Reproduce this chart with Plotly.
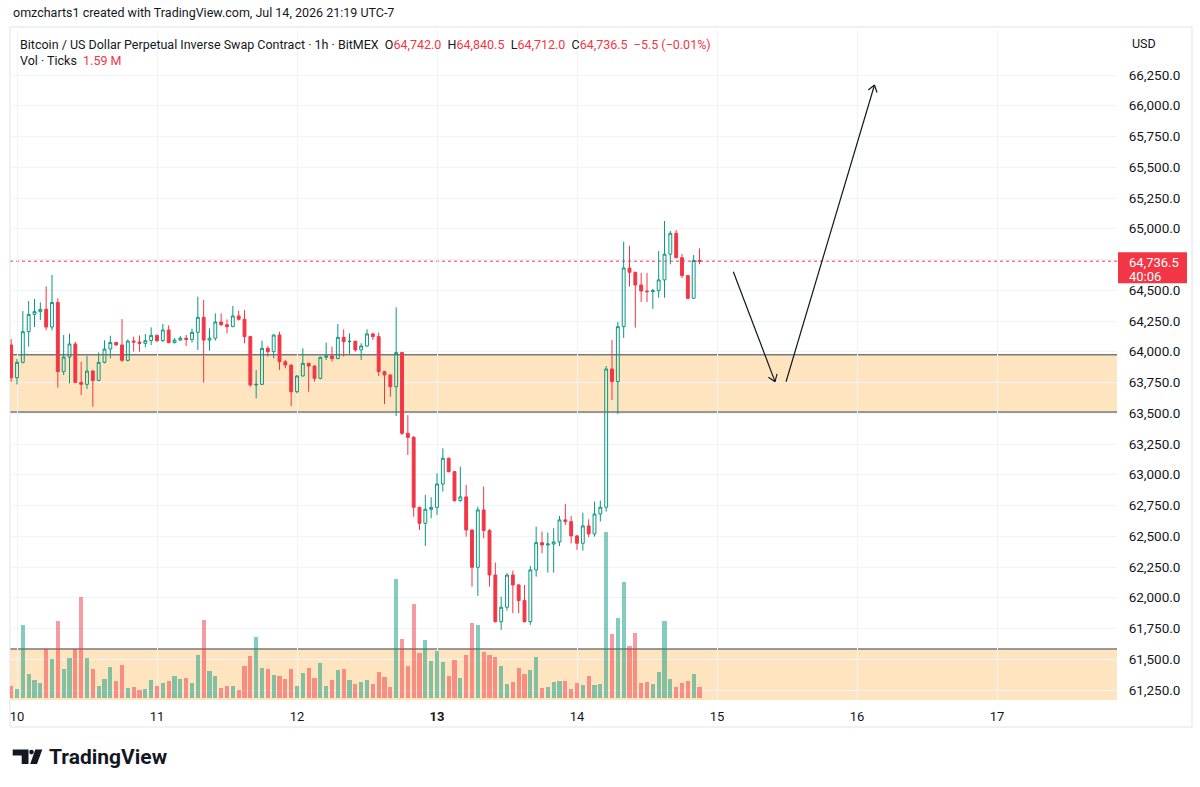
import math
import pandas as pd
import plotly.graph_objects as go

# ---------------- data ----------------
start_time = "2026-07-09 23:00"
opens = [64055, 63789, 63914, 64163, 64304, 64326, 64345, 64201, 64401, 63838,
         63957, 64063, 63751, 63735, 63843, 63767, 63914, 64022, 64076, 64055,
         63930, 64087, 64079, 64068, 64090, 64133, 64090, 64177, 64074, 64095,
         64110, 64100, 64158, 64280, 64095, 64110, 64242, 64220, 64204, 64291,
         64264, 64123, 63730, 63735, 64028, 64001, 64136, 63919, 63892, 63675,
         63803, 63906, 63884, 63784, 63955, 63966, 63944, 64117, 64082, 64085,
         64015, 64047, 64145, 64123, 63838, 63811, 63716, 63993, 63337, 63304,
         62735, 62605, 62719, 62735, 62925, 63134, 63025, 62790, 62820, 62551,
         62248, 62714, 62546, 62185, 61806, 61923, 62185, 62104, 61977, 61806,
         62226, 62448, 62429, 62437, 62454, 62633, 62619, 62503, 62443, 62584,
         62519, 62681, 62736, 63860, 63757, 64204, 64681, 64646, 64543, 64494,
         64489, 64497, 64584, 64793, 64963, 64765, 64619, 64435, 64742]
highs = [64103, 63941, 64331, 64412, 64429, 64401, 64532, 64624, 64434, 64136,
         64147, 64080, 63919, 63968, 63850, 63995, 64093, 64130, 64080, 64266,
         64100, 64123, 64133, 64144, 64198, 64140, 64226, 64215, 64110, 64128,
         64136, 64188, 64448, 64421, 64190, 64312, 64312, 64263, 64372, 64334,
         64339, 64130, 63852, 64090, 64045, 64140, 64163, 63933, 63895, 63810,
         64028, 63910, 63890, 63960, 64074, 64041, 64226, 64182, 64150, 64090,
         64069, 64183, 64155, 64155, 63845, 63815, 64361, 64000, 63486, 63315,
         62740, 62836, 62817, 63012, 63215, 63140, 63030, 63066, 62917, 62555,
         62741, 62904, 62557, 62286, 62009, 62199, 62221, 62112, 62104, 62258,
         62578, 62538, 62530, 62565, 62665, 62763, 62665, 62510, 62692, 62638,
         62782, 62790, 63884, 64096, 64242, 64895, 64862, 64650, 64641, 64641,
         64510, 64819, 65063, 64982, 64990, 64795, 64625, 64787, 64840.5]
lows = [63756, 63735, 63905, 64041, 64201, 64258, 64174, 64174, 63708, 63811,
        63743, 63745, 63648, 63697, 63553, 63760, 63905, 63946, 64050, 63919,
        63920, 64001, 64001, 64036, 64055, 64080, 64080, 64068, 64068, 64090,
        64047, 64074, 64014, 63749, 64009, 64090, 64210, 64150, 64200, 64253,
        64068, 63716, 63621, 63730, 63960, 63946, 63852, 63865, 63559, 63662,
        63800, 63675, 63757, 63776, 63933, 63920, 63940, 63960, 63974, 64000,
        63933, 64040, 64096, 63803, 63575, 63635, 63478, 63323, 63161, 62659,
        62551, 62421, 62646, 62673, 62863, 63020, 62781, 62780, 62497, 62090,
        62015, 62484, 62091, 61798, 61738, 61895, 61874, 61874, 61798, 61779,
        62172, 62362, 62204, 62204, 62421, 62592, 62443, 62389, 62383, 62492,
        62497, 62620, 62700, 63608, 63494, 64112, 64529, 64196, 64405, 64405,
        64348, 64440, 64440, 64711, 64760, 64600, 64425, 64430, 64712]
closes = [63789, 63914, 64163, 64304, 64326, 64345, 64201, 64401, 63838, 63957,
          64063, 63751, 63735, 63843, 63767, 63914, 64022, 64076, 64055, 63930,
          64087, 64079, 64068, 64090, 64133, 64090, 64177, 64074, 64095, 64110,
          64100, 64158, 64280, 64095, 64110, 64242, 64220, 64204, 64291, 64264,
          64123, 63730, 63735, 64028, 64001, 64136, 63919, 63892, 63675, 63803,
          63906, 63884, 63784, 63955, 63966, 63944, 64117, 64082, 64085, 64015,
          64047, 64145, 64123, 63838, 63811, 63716, 63993, 63337, 63304, 62735,
          62605, 62719, 62735, 62925, 63134, 63025, 62790, 62820, 62551, 62248,
          62714, 62546, 62185, 61806, 61923, 62185, 62104, 61977, 61806, 62226,
          62448, 62429, 62437, 62454, 62633, 62619, 62503, 62443, 62584, 62519,
          62681, 62736, 63860, 63757, 64204, 64681, 64646, 64543, 64494, 64489,
          64497, 64584, 64793, 64963, 64765, 64619, 64435, 64742, 64736.5]
volumes = [1.74, 1.39, 10.8, 3.63, 2.73, 2.24, 7.35, 5.81, 11.43, 4.32,
           5.96, 7.35, 15.05, 5.96, 4.37, 1.84, 2.83, 4.67, 2.58, 4.92,
           1.49, 1.64, 1.15, 1.39, 2.68, 1.79, 2.28, 2.58, 3.32, 2.79,
           2.98, 2.24, 6.36, 11.67, 4.07, 3.32, 1.45, 1.74, 1.84, 1.24,
           4.72, 6.21, 9.04, 4.52, 4.32, 3.47, 3.23, 2.79, 4.32, 1.74,
           3.77, 4.42, 2.98, 5.22, 1.84, 2.63, 4.22, 4.32, 2.73, 2.06,
           2.33, 2.63, 2.04, 3.92, 3.08, 1.64, 17.68, 8.84, 4.77, 13.96,
           6.66, 8.64, 5.51, 7.0, 5.36, 3.32, 5.62, 2.94, 6.45, 11.22,
           10.88, 6.81, 6.45, 6.15, 4.77, 2.09, 2.33, 4.42, 3.53, 4.17,
           6.06, 1.44, 1.69, 2.38, 2.58, 2.53, 1.34, 2.19, 1.94, 3.23,
           1.98, 2.09, 24.78, 9.54, 11.87, 17.33, 7.7, 9.64, 2.19, 2.33,
           2.04, 3.92, 11.52, 2.78, 1.59, 2.24, 2.53, 3.53, 1.59]

day_ticks = ["2026-07-10", "2026-07-11", "2026-07-12", "2026-07-13",
             "2026-07-14", "2026-07-15", "2026-07-16", "2026-07-17"]
day_labels = ["10", "11", "12", "<b>13</b>", "14", "15", "16", "17"]
price_ticks = [61250, 61500, 61750, 62000, 62250, 62500, 62750, 63000, 63250,
               63500, 63750, 64000, 64250, 64500, 64750, 65000, 65250, 65500,
               65750, 66000, 66250]
price_labels = ["61,250.0", "61,500.0", "61,750.0", "62,000.0", "62,250.0",
                "62,500.0", "62,750.0", "63,000.0", "63,250.0", "63,500.0",
                "63,750.0", "64,000.0", "64,250.0", "64,500.0", "", "65,000.0",
                "65,250.0", "65,500.0", "65,750.0", "66,000.0", "66,250.0"]

zone_upper = (63510, 63975)
zone_lower_top = 61583
last_price = 64736.5
arrow_down = (("2026-07-15 02:48", 64651), ("2026-07-15 09:57", 63757))
arrow_up = (("2026-07-15 11:50", 63756), ("2026-07-16 03:00", 66169))

# ---------------- geometry ----------------
W, H = 1200, 787
ML, MR, MT, MB = 10, 83, 30, 87
PW, PH = W - ML - MR, H - MT - MB
x_range = [pd.Timestamp("2026-07-09 22:48:00"), pd.Timestamp("2026-07-17 20:34:17")]
y_range = [61168.7, 66615.9]
vol_range = [-0.3, 99.5]

UP, DOWN = "#089981", "#F23645"
TXT = "#131722"
FONT = "Roboto, Arial, sans-serif"

times = pd.date_range(start_time, periods=len(opens), freq="h")
vol_colors = ["rgba(8,153,129,0.5)" if c >= o else "rgba(242,54,69,0.5)"
              for o, c in zip(opens, closes)]


def px_x(px):
    return (px - ML) / PW


def px_y(py):
    return 1 - (py - MT) / PH


def t_to_px(t):
    t = pd.Timestamp(t)
    return ML + (t - x_range[0]) / (x_range[1] - x_range[0]) * PW


def p_to_px(p):
    return MT + (y_range[1] - p) / (y_range[1] - y_range[0]) * PH


def px_to_t(px):
    return x_range[0] + (px - ML) / PW * (x_range[1] - x_range[0])


def px_to_p(py):
    return y_range[1] - (py - MT) / PH * (y_range[1] - y_range[0])


fig = go.Figure()
fig.add_trace(go.Bar(x=times, y=volumes, marker=dict(color=vol_colors, line_width=0),
                     width=0.74 * 3600000, yaxis="y", hoverinfo="skip"))
fig.add_trace(go.Candlestick(
    x=times, open=opens, high=highs, low=lows, close=closes, yaxis="y2",
    increasing=dict(line=dict(color=UP, width=1), fillcolor="rgba(0,0,0,0)"),
    decreasing=dict(line=dict(color=DOWN, width=1), fillcolor=DOWN),
    whiskerwidth=0, hoverinfo="skip"))

shapes = []
ZONE_FILL = "rgba(255,152,0,0.25)"
ZONE_LINE = "#787878"
shapes.append(dict(type="rect", xref="paper", yref="y2", x0=0, x1=1,
                   y0=zone_upper[0], y1=zone_upper[1], fillcolor=ZONE_FILL,
                   line_width=0, layer="below"))
for yv in zone_upper:
    shapes.append(dict(type="line", xref="paper", yref="y2", x0=0, x1=1, y0=yv, y1=yv,
                       line=dict(color=ZONE_LINE, width=1.5), layer="below"))
shapes.append(dict(type="rect", xref="paper", yref="y2", x0=0, x1=1,
                   y0=y_range[0], y1=zone_lower_top, fillcolor=ZONE_FILL,
                   line_width=0, layer="below"))
shapes.append(dict(type="line", xref="paper", yref="y2", x0=0, x1=1,
                   y0=zone_lower_top, y1=zone_lower_top,
                   line=dict(color=ZONE_LINE, width=1.5), layer="below"))
# last price dotted line
shapes.append(dict(type="line", xref="paper", yref="y2", x0=0, x1=1,
                   y0=last_price, y1=last_price,
                   line=dict(color=DOWN, width=1, dash="dot"), layer="below"))

# arrows with open V heads
for (t0, p0), (t1, p1) in (arrow_down, arrow_up):
    shapes.append(dict(type="line", xref="x", yref="y2", x0=t0, y0=p0, x1=t1, y1=p1,
                       line=dict(color="#131722", width=1.2)))
    x0p, y0p, x1p, y1p = t_to_px(t0), p_to_px(p0), t_to_px(t1), p_to_px(p1)
    L = math.hypot(x1p - x0p, y1p - y0p)
    ux, uy = (x1p - x0p) / L, (y1p - y0p) / L
    for ang in (math.radians(35), -math.radians(35)):
        rx = ux * math.cos(ang) - uy * math.sin(ang)
        ry = ux * math.sin(ang) + uy * math.cos(ang)
        wx, wy = x1p - 8 * rx, y1p - 8 * ry
        shapes.append(dict(type="line", xref="x", yref="y2", x0=t1, y0=p1,
                           x1=px_to_t(wx), y1=px_to_p(wy),
                           line=dict(color="#131722", width=1.2)))

# chart container border
shapes.append(dict(type="rect", xref="paper", yref="paper",
                   x0=px_x(10), x1=px_x(1192), y0=px_y(727), y1=px_y(27),
                   line=dict(color="#e0e3eb", width=1), fillcolor="rgba(0,0,0,0)",
                   layer="below"))

# price label box on axis
py_last = p_to_px(last_price)
shapes.append(dict(type="rect", xref="paper", yref="paper",
                   x0=px_x(1118), x1=px_x(1187), y0=px_y(py_last + 22), y1=px_y(py_last - 9),
                   fillcolor=DOWN, line_width=0))

# TradingView logo
def P(x, y):
    return f"{px_x(x):.5f} {px_y(y):.5f}"

logo_paths = [
    f"M {P(12.7,749.5)} L {P(28.5,749.5)} L {P(28.5,764)} L {P(21.7,764)} L {P(21.7,755.5)} L {P(12.7,755.5)} Z",
    f"M {P(35.3,749.5)} L {P(42.3,749.5)} L {P(37,764)} L {P(30.2,764)} Z",
]
for pth in logo_paths:
    shapes.append(dict(type="path", xref="paper", yref="paper", path=pth,
                       fillcolor=TXT, line_width=0))
shapes.append(dict(type="circle", xref="paper", yref="paper",
                   x0=px_x(29.2), x1=px_x(33.8), y0=px_y(754.4), y1=px_y(749.8),
                   fillcolor=TXT, line_width=0))

annotations = []


def text(x, y, s, size=12.5, color=TXT, anchor="left", yanchor="middle"):
    annotations.append(dict(xref="paper", yref="paper", x=px_x(x), y=px_y(y), text=s,
                            showarrow=False, xanchor=anchor, yanchor=yanchor,
                            font=dict(family=FONT, size=size, color=color)))


def red(s):
    return f'<span style="color:{DOWN}">{s}</span>'


nb = "\u00a0"
text(11, 12, "omzcharts1 created with TradingView.com, Jul 14, 2026 21:19 UTC-7")
legend = ("Bitcoin / US Dollar Perpetual Inverse Swap Contract · 1h · BitMEX" + nb * 2 +
          "O" + red("64,742.0") + nb * 2 + "H" + red("64,840.5") + nb * 2 +
          "L" + red("64,712.0") + nb * 2 + "C" + red("64,736.5") + nb * 2 +
          red("\u22125.5 (\u22120.01%)"))
text(18, 44, legend)
text(18, 61, "Vol · Ticks" + nb * 2 + red("1.59" + nb + "M"))
text(1130, 43, "USD")
text(1127, py_last + 1, "64,736.5", size=13, color="white")
text(1127, py_last + 15, "40:06", size=13, color="white")
text(47, 757, "<b>TradingView</b>", size=21)

fig.update_layout(
    width=W, height=H, margin=dict(l=ML, r=MR, t=MT, b=MB),
    paper_bgcolor="white", plot_bgcolor="white", showlegend=False,
    font=dict(family=FONT, size=13, color=TXT),
    bargap=0,
    xaxis=dict(type="date", range=x_range, tickvals=day_ticks, ticktext=day_labels,
               showgrid=True, gridcolor="#f0f3fa", gridwidth=1, zeroline=False,
               ticks="outside", ticklen=4, tickcolor="rgba(0,0,0,0)",
               tickfont=dict(family=FONT, size=13, color=TXT),
               rangeslider=dict(visible=False), showline=False),
    yaxis=dict(range=vol_range, visible=False, showgrid=False, zeroline=False),
    yaxis2=dict(overlaying="y", side="right", range=y_range, tickvals=price_ticks,
                ticktext=price_labels, showgrid=True, gridcolor="#f0f3fa", gridwidth=1,
                zeroline=False, ticks="outside", ticklen=8, tickcolor="rgba(0,0,0,0)",
                tickfont=dict(family=FONT, size=13.5, color=TXT), showline=False),
    shapes=shapes, annotations=annotations,
)

fig.write_html("out.html", config={"displayModeBar": False})
